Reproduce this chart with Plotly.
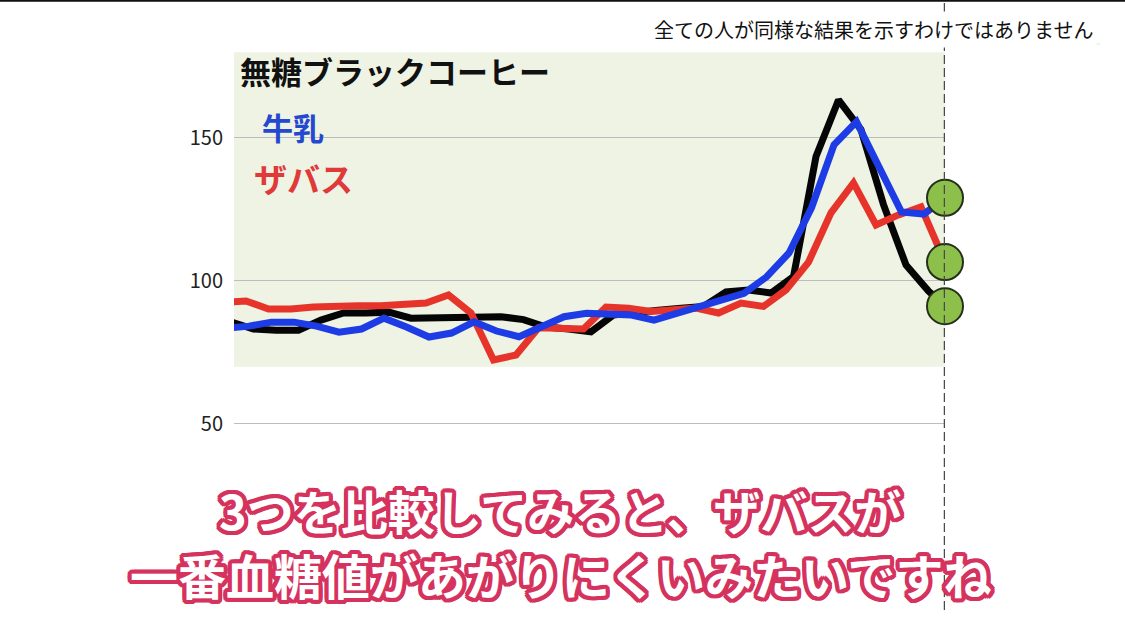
import plotly.graph_objects as go

# ---------------- data (minutes from left edge, glucose mg/dL) ----------------
black_t = [-2, 13, 28, 43, 58, 73, 88, 103, 118, 133, 148, 163, 178, 193, 208, 223,
           238, 253, 268, 283, 298, 313, 328, 343, 358, 373, 388, 403, 418, 433, 448, 463, 474]
black_v = [85.7, 83.2, 82.8, 82.8, 86.3, 88.8, 88.8, 89.1, 87.0, 87.0, 87.0, 87.2, 87.5, 86.5,
           83.9, 83.2, 82.2, 88.1, 89.2, 89.8, 90.5, 91.1, 96.2, 96.8, 95.8, 101.5, 143.5,
           163.3, 152.9, 126.7, 105.6, 96.5, 91.2]

blue_t = [-5, 10, 25, 40, 55, 70, 85, 100, 115, 130, 145, 160, 175, 190, 205, 220,
          235, 250, 265, 280, 295, 310, 325, 340, 355, 370, 385, 400, 415, 430, 445, 460, 474]
blue_v = [83.5, 84.2, 85.6, 85.6, 84.2, 82.1, 83.2, 87.0, 83.9, 80.4, 81.8, 85.7, 82.5, 80.5,
          84.0, 87.5, 88.7, 88.1, 88.1, 86.3, 88.7, 91.0, 93.4, 95.7, 101.4, 109.8, 125.6,
          147.6, 155.7, 139.6, 124.1, 123.4, 129.1]

red_t = [-7, 8, 23, 38, 53, 68, 83, 98, 113, 128, 143, 158, 173, 188, 203, 218,
         233, 248, 263, 278, 293, 308, 323, 338, 353, 368, 383, 398, 413, 428, 443, 458, 474]
red_v = [92.5, 93.0, 90.2, 90.2, 90.9, 91.3, 91.3, 91.3, 92.0, 92.3, 95.1, 88.8, 72.4, 74.1,
         83.6, 83.4, 83.2, 90.9, 90.5, 89.3, 90.2, 90.5, 88.8, 92.3, 91.1, 96.9, 106.6,
         123.8, 134.3, 119.6, 123.1, 125.9, 106.6]

series_names = ["無糖ブラックコーヒー", "牛乳", "ザバス"]
y_ticks = [50, 100, 150]
band_range = [70, 180]
now_t = 474
x_range = [0, 474]
y_range = [33.9, 198.25]

note_text = "全ての人が同様な結果を示すわけではありません"
sub_line1 = "3つを比較してみると、ザバスが"
sub_line2 = "一番血糖値があがりにくいみたいですね"

FONT = "Noto Sans CJK JP, Noto Sans, sans-serif"
C_BLACK = "#050505"
C_BLUE = "#1E3CE6"
C_RED = "#E6342B"
C_GREEN = "#8DC04B"

fig = go.Figure()

fig.add_trace(go.Scatter(x=black_t, y=black_v, mode="lines",
                         line=dict(color=C_BLACK, width=7), name=series_names[0],
                         showlegend=False))
fig.add_trace(go.Scatter(x=red_t, y=red_v, mode="lines",
                         line=dict(color=C_RED, width=7), name=series_names[2],
                         showlegend=False))
fig.add_trace(go.Scatter(x=blue_t, y=blue_v, mode="lines",
                         line=dict(color=C_BLUE, width=7), name=series_names[1],
                         showlegend=False))
# end-point markers
fig.add_trace(go.Scatter(x=[black_t[-1], red_t[-1], blue_t[-1]],
                         y=[black_v[-1], red_v[-1], blue_v[-1]],
                         mode="markers", cliponaxis=False, showlegend=False,
                         marker=dict(size=36, color=C_GREEN,
                                     line=dict(color="#24301A", width=2))))

# plot geometry (px) for paper conversions
L, R, T, B = 234, 945, 0, 470
W, H = R - L, B - T
def px(x):
    return (x - L) / W
def py(y):
    return (B - y) / H

shapes = [
    # green band
    dict(type="rect", xref="x", yref="y", x0=x_range[0], x1=now_t,
         y0=band_range[0], y1=band_range[1], fillcolor="#EEF3E3",
         line=dict(width=0), layer="below"),
    # dashed "now" line
    dict(type="line", xref="x", yref="paper", x0=now_t, x1=now_t,
         y0=py(610), y1=py(0), line=dict(color="#4A4A4A", width=2.5, dash="9px,4px"),
         layer="above"),
    # top black border
    dict(type="line", xref="paper", yref="paper", x0=px(0), x1=px(1125),
         y0=py(0.8), y1=py(0.8), line=dict(color="#111", width=2)),
    # faint underline for note box
    dict(type="line", xref="paper", yref="paper", x0=px(650), x1=px(1100),
         y0=py(44), y1=py(44), line=dict(color="#E2E2E2", width=1)),
]

outline = ", ".join(
    f"{dx}px {dy}px 0 #D5325E" for dx, dy in
    [(4, 0), (-4, 0), (0, 4), (0, -4), (3, 3), (-3, 3), (3, -3), (-3, -3),
     (4, 2), (-4, 2), (4, -2), (-4, -2), (2, 4), (-2, 4), (2, -4), (-2, -4),
     (2, 0), (-2, 0), (0, 2), (0, -2)]
)

annotations = [
    dict(text=series_names[0], xref="paper", yref="paper", x=px(238), y=py(70),
         xanchor="left", yanchor="middle", showarrow=False,
         font=dict(family=FONT, size=31, color="#111", weight="bold")),
    dict(text=series_names[1], xref="paper", yref="paper", x=px(260), y=py(126),
         xanchor="left", yanchor="middle", showarrow=False,
         font=dict(family=FONT, size=31, color="#2448D0", weight="bold")),
    dict(text=series_names[2], xref="paper", yref="paper", x=px(252), y=py(178),
         xanchor="left", yanchor="middle", showarrow=False,
         font=dict(family=FONT, size=33, color="#E0393A", weight="bold")),
    dict(text=note_text, xref="paper", yref="paper", x=px(873), y=py(29),
         xanchor="center", yanchor="middle", showarrow=False, bgcolor="white",
         borderpad=3,
         font=dict(family=FONT, size=20, color="#111")),
    dict(text="200", xref="paper", yref="y", x=px(223), y=200,
         xanchor="right", yanchor="middle", showarrow=False,
         font=dict(family=FONT, size=20, color="#222")),
    dict(text=sub_line1, xref="paper", yref="paper", x=px(560), y=py(510),
         xanchor="center", yanchor="middle", showarrow=False,
         font=dict(family=FONT, size=47, color="white", weight="bold", shadow=outline)),
    dict(text=sub_line2, xref="paper", yref="paper", x=px(561), y=py(574),
         xanchor="center", yanchor="middle", showarrow=False,
         font=dict(family=FONT, size=48, color="white", weight="bold", shadow=outline)),
]

fig.update_layout(
    width=1125, height=633,
    margin=dict(l=L, r=1125 - R, t=T, b=633 - B, pad=0, autoexpand=False),
    paper_bgcolor="white", plot_bgcolor="white",
    showlegend=False,
    shapes=shapes, annotations=annotations,
    font=dict(family=FONT),
    xaxis=dict(range=x_range, showgrid=False, showticklabels=False, zeroline=False,
               showline=False, ticks=""),
    yaxis=dict(range=y_range, tickvals=y_ticks, showgrid=True, gridcolor="#BDBDBD",
               gridwidth=1, zeroline=False, showline=False, ticks="",
               ticklabelstandoff=10,
               tickfont=dict(family=FONT, size=20, color="#222")),
)

fig.write_html("out.html", config={"displayModeBar": False},
               post_script="document.body.style.margin='0';")
